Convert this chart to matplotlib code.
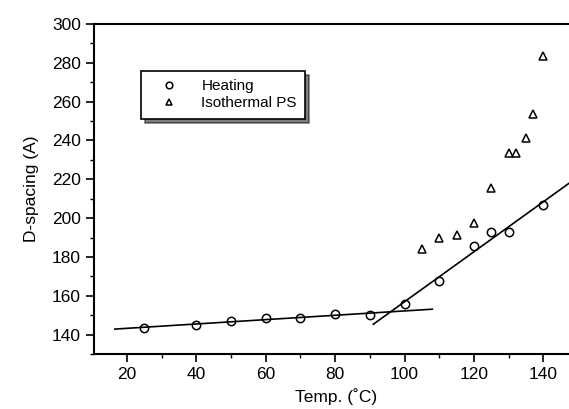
import numpy as np
import matplotlib.pyplot as plt
from matplotlib.ticker import MultipleLocator

plt.rcParams['font.family'] = ['Liberation Sans', 'DejaVu Sans']

# heating run
heat_t = [25, 40, 50, 60, 70, 80, 90, 100, 110, 120, 125, 130, 140]
heat_d = [143.5, 145, 147, 148.5, 148.7, 150.4, 150.3, 156, 167.8, 185.8, 193, 193, 206.8]

# isothermal PS
iso_t = [105, 110, 115, 120, 125, 130, 132, 135, 137, 140]
iso_d = [184, 190, 191.5, 197.6, 215.7, 233.5, 233.5, 241.4, 253.5, 283.4]

# linear fits below / above the transition
low = np.polyfit(heat_t[:7], heat_d[:7], 1)
high = np.polyfit(heat_t[7:], heat_d[7:], 1)
low_x = np.array([16.5, 108])
high_x = np.array([91, 148])

fig = plt.figure(figsize=(5.69, 4.09), dpi=100)
ax = fig.add_axes([94 / 569, 55 / 409, (578 - 94) / 569, 330 / 409])

ax.plot(low_x, np.polyval(low, low_x), color='black', lw=1.2)
ax.plot(high_x, np.polyval(high, high_x), color='black', lw=1.2)
ax.plot(heat_t, heat_d, 'o', ms=6, mfc='none', mec='black', mew=1.1, label='Heating')
ax.plot(iso_t, iso_d, '^', ms=6, mfc='none', mec='black', mew=1.1, label='Isothermal PS')

ax.set_xlim(10.5, 150)
ax.set_ylim(130, 300)
ax.xaxis.set_major_locator(MultipleLocator(20))
ax.xaxis.set_minor_locator(MultipleLocator(10))
ax.yaxis.set_major_locator(MultipleLocator(20))
ax.yaxis.set_minor_locator(MultipleLocator(10))
ax.tick_params(which='major', direction='out', length=6, width=1.2, labelsize=12.5, colors='black')
ax.tick_params(which='minor', direction='out', length=3, width=1)
ax.spines['right'].set_visible(False)
for s in ['left', 'bottom', 'top']:
    ax.spines[s].set_linewidth(1.5)

ax.set_xlabel('Temp. (˚C)', fontsize=12.5)
ax.set_ylabel('D-spacing (A)', fontsize=12.5, labelpad=9)

leg = ax.legend(loc='upper left', bbox_to_anchor=(141 / 569, 1 - 71 / 409), bbox_transform=fig.transFigure,
                borderaxespad=0, fancybox=False, edgecolor='black',
                shadow={'color': 'black', 'ox': 3, 'oy': -3},
                fontsize=11, handlelength=2.5, handletextpad=0.9, borderpad=0.55, labelspacing=0.2,
                markerscale=0.8, framealpha=1)
leg.get_frame().set_linewidth(1.2)

fig.savefig('out.png', dpi=100)
